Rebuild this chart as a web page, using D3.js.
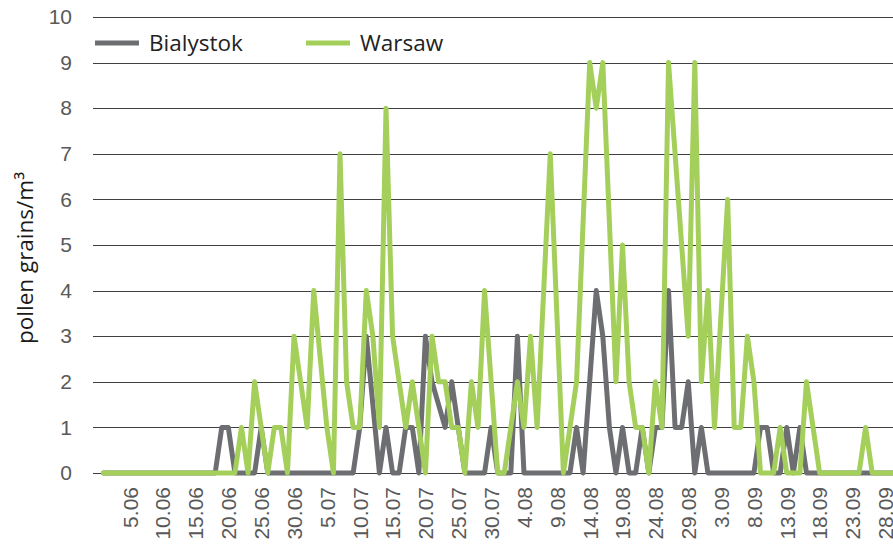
<!DOCTYPE html>
<html>
<head>
<meta charset="utf-8">
<script src="https://cdn.jsdelivr.net/npm/d3@7"></script>
<style>
  body { margin: 0; background: #fff; }
  svg { display: block; font-family: "Open Sans", "Noto Sans", sans-serif; }
</style>
</head>
<body>
<div id="chart"></div>
<script>
// daily categories 1.06 - 30.09
var fmt = d3.timeFormat("%-d.%m");
var days = d3.timeDay.range(new Date(2020, 5, 1), new Date(2020, 9, 1)).map(fmt);

// every 5th day gets a label, starting at 5.06
var dayLabels = days.filter(function (d, i) { return i % 5 === 4; });

var yTicks = [0, 1, 2, 3, 4, 5, 6, 7, 8, 9, 10];

var seriesNames = ["Bialystok", "Warsaw"];
var seriesColors = ["#6d6e71", "#a4cf5b"];

var bialystok = [
  0, 0, 0, 0, 0, 0, 0, 0, 0, 0, 0, 0, 0, 0, 0, 0, 0, 0, 1, 1,
  0, 0, 0, 0, 1, 0, 0, 0, 0, 0, 0, 0, 0, 0, 0, 0, 0, 0, 0, 1,
  3, 1.5, 0, 1, 0, 0, 1, 1, 0, 3, 2, 1.5, 1, 2, 1, 0, 0, 0, 0, 1,
  0, 0, 0, 3, 0, 0, 0, 0, 0, 0, 0, 0, 1, 0, 2, 4, 3, 1, 0, 1,
  0, 0, 1, 0, 1, 1, 4, 1, 1, 2, 0, 1, 0, 0, 0, 0, 0, 0, 0, 0,
  1, 1, 0, 0, 1, 0, 1, 0, 0, 0, 0, 0, 0, 0, 0, 0, 0, 0, 0, 0,
  0, 0
];

var warsaw = [
  0, 0, 0, 0, 0, 0, 0, 0, 0, 0, 0, 0, 0, 0, 0, 0, 0, 0, 0, 0,
  0, 1, 0, 2, 1, 0, 1, 1, 0, 3, 2, 1, 4, 2.5, 1, 0, 7, 2, 1, 1,
  4, 3, 1, 8, 3, 2, 1, 2, 1, 0, 3, 2, 2, 1, 1, 0, 2, 1, 4, 2,
  0, 0, 1, 2, 1, 3, 1, 4, 7, 3.5, 0, 1, 2, 5.5, 9, 8, 9, 5.5, 2, 5,
  2, 1, 1, 0, 2, 1, 9, 7, 5, 3, 9, 2, 4, 1, 3.5, 6, 1, 1, 3, 2,
  0, 0, 0, 1, 0, 0, 0, 2, 1, 0, 0, 0, 0, 0, 0, 0, 1, 0, 0, 0,
  0, 0
];

var W = 893, H = 545;
var plotLeft = 93, plotRight = 893, plotTop = 17, plotBottom = 473;

var svg = d3.select("#chart").append("svg")
    .attr("width", W)
    .attr("height", H);

var x = d3.scalePoint()
    .domain(days)
    .range([103.5, 103.5 + 6.57 * (days.length - 1)]);

var y = d3.scaleLinear()
    .domain([0, 10])
    .range([plotBottom, plotTop]);

// gridlines + y tick labels
var yAxis = d3.axisLeft(y)
    .tickValues(yTicks)
    .tickSize(-(plotRight - plotLeft))
    .tickPadding(21)
    .tickFormat(d3.format("d"));

var gy = svg.append("g")
    .attr("transform", "translate(" + plotLeft + ",0)")
    .call(yAxis);
gy.select(".domain").remove();
gy.selectAll(".tick line")
    .attr("stroke", "#404040")
    .attr("shape-rendering", "crispEdges");
gy.selectAll(".tick text")
    .attr("fill", "#595959")
    .style("font-size", "21px");

// x labels, rotated
var xAxis = d3.axisBottom(x)
    .tickValues(dayLabels)
    .tickSize(0)
    .tickPadding(0);

var gx = svg.append("g")
    .attr("transform", "translate(0," + plotBottom + ")")
    .call(xAxis);
gx.select(".domain").remove();
gx.selectAll(".tick text")
    .attr("fill", "#595959")
    .style("font-size", "21px")
    .attr("text-anchor", "end")
    .attr("transform", "translate(0,14) rotate(-90)")
    .attr("x", 0)
    .attr("y", 0)
    .attr("dy", "0.35em");

// lines
var line = d3.line()
    .x(function (d, i) { return x(days[i]); })
    .y(function (d) { return y(d); });

[bialystok, warsaw].forEach(function (s, k) {
  svg.append("path")
      .datum(s)
      .attr("fill", "none")
      .attr("stroke", seriesColors[k])
      .attr("stroke-width", 5)
      .attr("stroke-linejoin", "round")
      .attr("stroke-linecap", "round")
      .attr("d", line);
});

// legend
var legendX = [95, 306];
seriesNames.forEach(function (name, k) {
  var g = svg.append("g").attr("transform", "translate(" + legendX[k] + ",43)");
  g.append("line")
      .attr("x1", 0).attr("x2", 44)
      .attr("stroke", seriesColors[k])
      .attr("stroke-width", 5);
  g.append("text")
      .attr("x", 54)
      .attr("dy", "0.35em")
      .attr("fill", "#222")
      .style("font-size", "22.5px")
      .text(name);
});

// y axis title
svg.append("text")
    .attr("transform", "translate(33,258) rotate(-90)")
    .attr("text-anchor", "middle")
    .attr("fill", "#1a1a1a")
    .style("font-size", "22.5px")
    .text("pollen grains/m³");
</script>
</body>
</html>
